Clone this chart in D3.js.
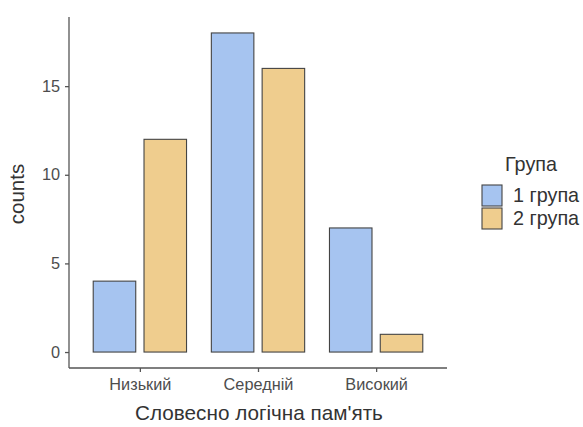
<!DOCTYPE html>
<html><head><meta charset="utf-8">
<script src="https://cdn.jsdelivr.net/npm/d3@7"></script>
<style>body{margin:0;background:#fff}svg{font-family:"Liberation Sans",Arial,Helvetica,sans-serif}</style>
</head><body>
<script>
const categories = ["Низький", "Середній", "Високий"];
const groups = ["1 група", "2 група"];
const group1 = [4, 18, 7];
const group2 = [12, 16, 1];
const yTicks = [0, 5, 10, 15];
const colors = ["#A6C4F0", "#EFCD8E"];

(function () {
const W = 583, H = 427;
const mL = 69, mR = 447, mT = 17, mB = 368;
const svg = d3.select("body").append("svg").attr("width", W).attr("height", H);

const y = d3.scaleLinear().domain([-0.9, 18.9]).range([mB, mT]);
const x = d3.scaleLinear().domain([0.4, 3.6]).range([mL, mR]);

const data = [];
categories.forEach((c, i) => {
  data.push({cat: i + 1, g: 0, v: group1[i]});
  data.push({cat: i + 1, g: 1, v: group2[i]});
});
const bw = 0.36, off = 0.215;
svg.selectAll("rect.bar").data(data).enter().append("rect")
  .attr("x", d => x(d.cat + (d.g === 0 ? -off : off) - bw / 2))
  .attr("width", x(bw) - x(0))
  .attr("y", d => y(d.v))
  .attr("height", d => y(0) - y(d.v))
  .attr("fill", d => colors[d.g])
  .attr("stroke", "#444").attr("stroke-width", 1.1);

const yAxis = svg.append("g").attr("transform", `translate(${mL},0)`)
  .call(d3.axisLeft(y).tickValues(yTicks).tickSize(4).tickPadding(5));
const xAxis = svg.append("g").attr("transform", `translate(0,${mB})`)
  .call(d3.axisBottom(x).tickValues([1, 2, 3]).tickFormat((d, i) => categories[i]).tickSize(4).tickPadding(6));
[yAxis, xAxis].forEach(a => {
  a.attr("font-family", null).attr("font-size", null);
  a.select(".domain").attr("stroke", "#555").attr("stroke-width", 1.3);
  a.selectAll(".tick line").attr("stroke", "#555").attr("stroke-width", 1.3);
  a.selectAll(".tick text").attr("fill", "#4d4d4d").style("font-size", "16.3px");
});
yAxis.select(".domain").attr("d", `M0,${mT}V${mB}`);
xAxis.select(".domain").attr("d", `M${mL},0H${mR}`);

svg.append("text").attr("x", 259).attr("y", 420).attr("text-anchor", "middle")
  .style("font-size", "20.7px").attr("fill", "#333").text("Словесно логічна пам'ять");
svg.append("text").attr("transform", "translate(24,194) rotate(-90)").attr("text-anchor", "middle")
  .style("font-size", "20.5px").attr("fill", "#333").text("counts");

const lg = svg.append("g");
lg.append("text").attr("x", 531).attr("y", 171).attr("text-anchor", "middle").style("font-size", "19.8px").attr("fill", "#333").text("Група");
groups.forEach((g, i) => {
  lg.append("rect").attr("x", 482).attr("y", 185 + i * 23).attr("width", 20).attr("height", 21)
    .attr("fill", colors[i]).attr("stroke", "#444").attr("stroke-width", 1.1);
  lg.append("text").attr("x", 513).attr("y", 202 + i * 23).style("font-size", "19.8px").attr("fill", "#333").text(g);
});
})();
</script>
</body></html>
